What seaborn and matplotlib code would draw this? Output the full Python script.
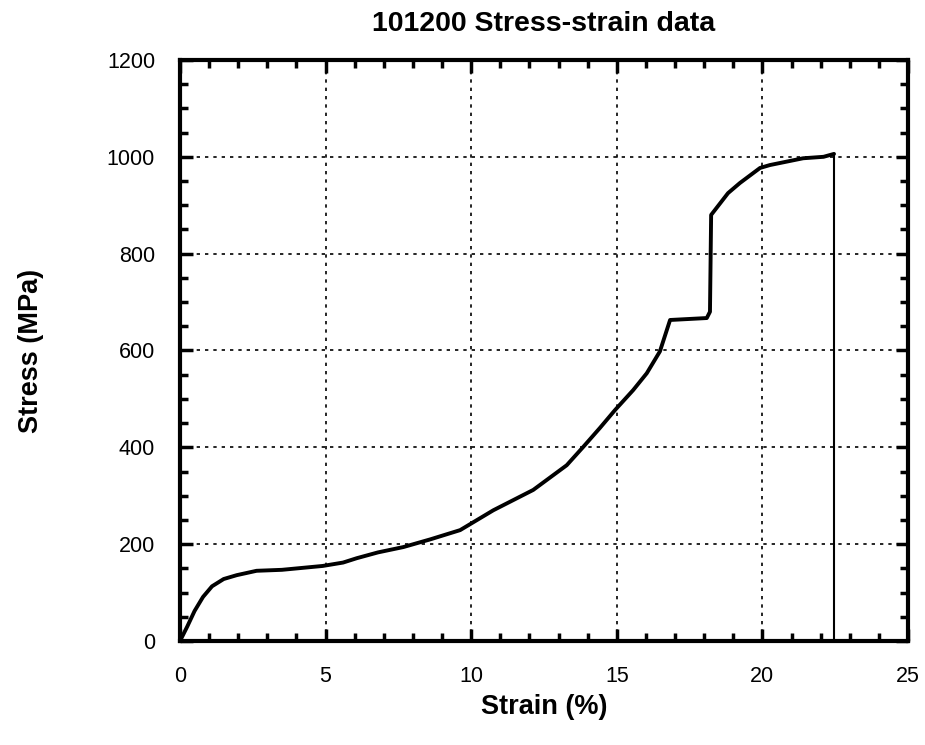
import numpy as np
import pandas as pd
import matplotlib
matplotlib.use("Agg")
import matplotlib.pyplot as plt
from matplotlib.ticker import MultipleLocator
import seaborn as sns

# Values
strain = [0.0, 0.25, 0.5, 0.79, 1.1, 1.5, 1.95, 2.63, 3.5, 4.9, 5.6, 6.07,
          6.8, 7.67, 8.6, 9.62, 10.76, 12.13, 13.28, 13.85, 14.42, 14.94,
          15.56, 16.03, 16.48, 16.83, 18.09, 18.2, 18.24, 18.82, 19.23,
          19.92, 20.26, 21.4, 22.1, 22.46]
stress = [0, 30, 62, 91, 113, 128, 136, 145, 147, 155, 162, 171,
          183, 194, 210, 229, 270, 312, 363, 401, 440, 477,
          518, 553, 598, 663, 667, 680, 880, 925, 946,
          977, 983, 997, 1000, 1006]
# fracture drop
drop_strain = [22.46, 22.46]
drop_stress = [1006, 0]

df = pd.DataFrame({"strain": strain, "stress": stress})
drop = pd.DataFrame({"strain": drop_strain, "stress": drop_stress})

sns.set_style("white")
plt.rcParams["font.family"] = ["Liberation Sans", "DejaVu Sans"]
plt.rcParams.update({"text.color": "black", "axes.labelcolor": "black",
                     "xtick.color": "black", "ytick.color": "black"})

fig = plt.figure(figsize=(9.25, 7.45), dpi=100)
ax = fig.add_axes([0.1946, 0.1396, 0.787, 0.7799])

sns.lineplot(data=df, x="strain", y="stress", sort=False, estimator=None,
             color="black", linewidth=2.8, ax=ax)
sns.lineplot(data=drop, x="strain", y="stress", sort=False, estimator=None,
             color="black", linewidth=1.5, ax=ax)

ax.set_xlim(0, 25)
ax.set_ylim(0, 1200)
ax.xaxis.set_major_locator(MultipleLocator(5))
ax.xaxis.set_minor_locator(MultipleLocator(1))
ax.yaxis.set_major_locator(MultipleLocator(200))
ax.yaxis.set_minor_locator(MultipleLocator(50))

ax.grid(True, which="major", color="black", linestyle=(0, (2, 3)), linewidth=1.2)
ax.set_axisbelow(True)

for s in ax.spines.values():
    s.set_visible(True)
    s.set_linewidth(3)
    s.set_color("black")

ax.tick_params(which="both", direction="in", top=True, right=True,
               bottom=True, left=True, color="black", labelcolor="black")
ax.tick_params(which="major", length=9, width=2.5, labelsize=15.5)
ax.tick_params(axis="x", which="major", pad=18)
ax.tick_params(axis="y", which="major", pad=18)
ax.tick_params(which="minor", length=6, width=2.5)

ax.set_xlabel("Strain (%)", fontsize=19.5, weight="bold", labelpad=5)
ax.set_ylabel("Stress (MPa)", fontsize=19.5, weight="bold", labelpad=45)
ax.set_title("101200 Stress-strain data", fontsize=20.5, weight="bold", pad=21)

fig.savefig("out.png", dpi=100)
